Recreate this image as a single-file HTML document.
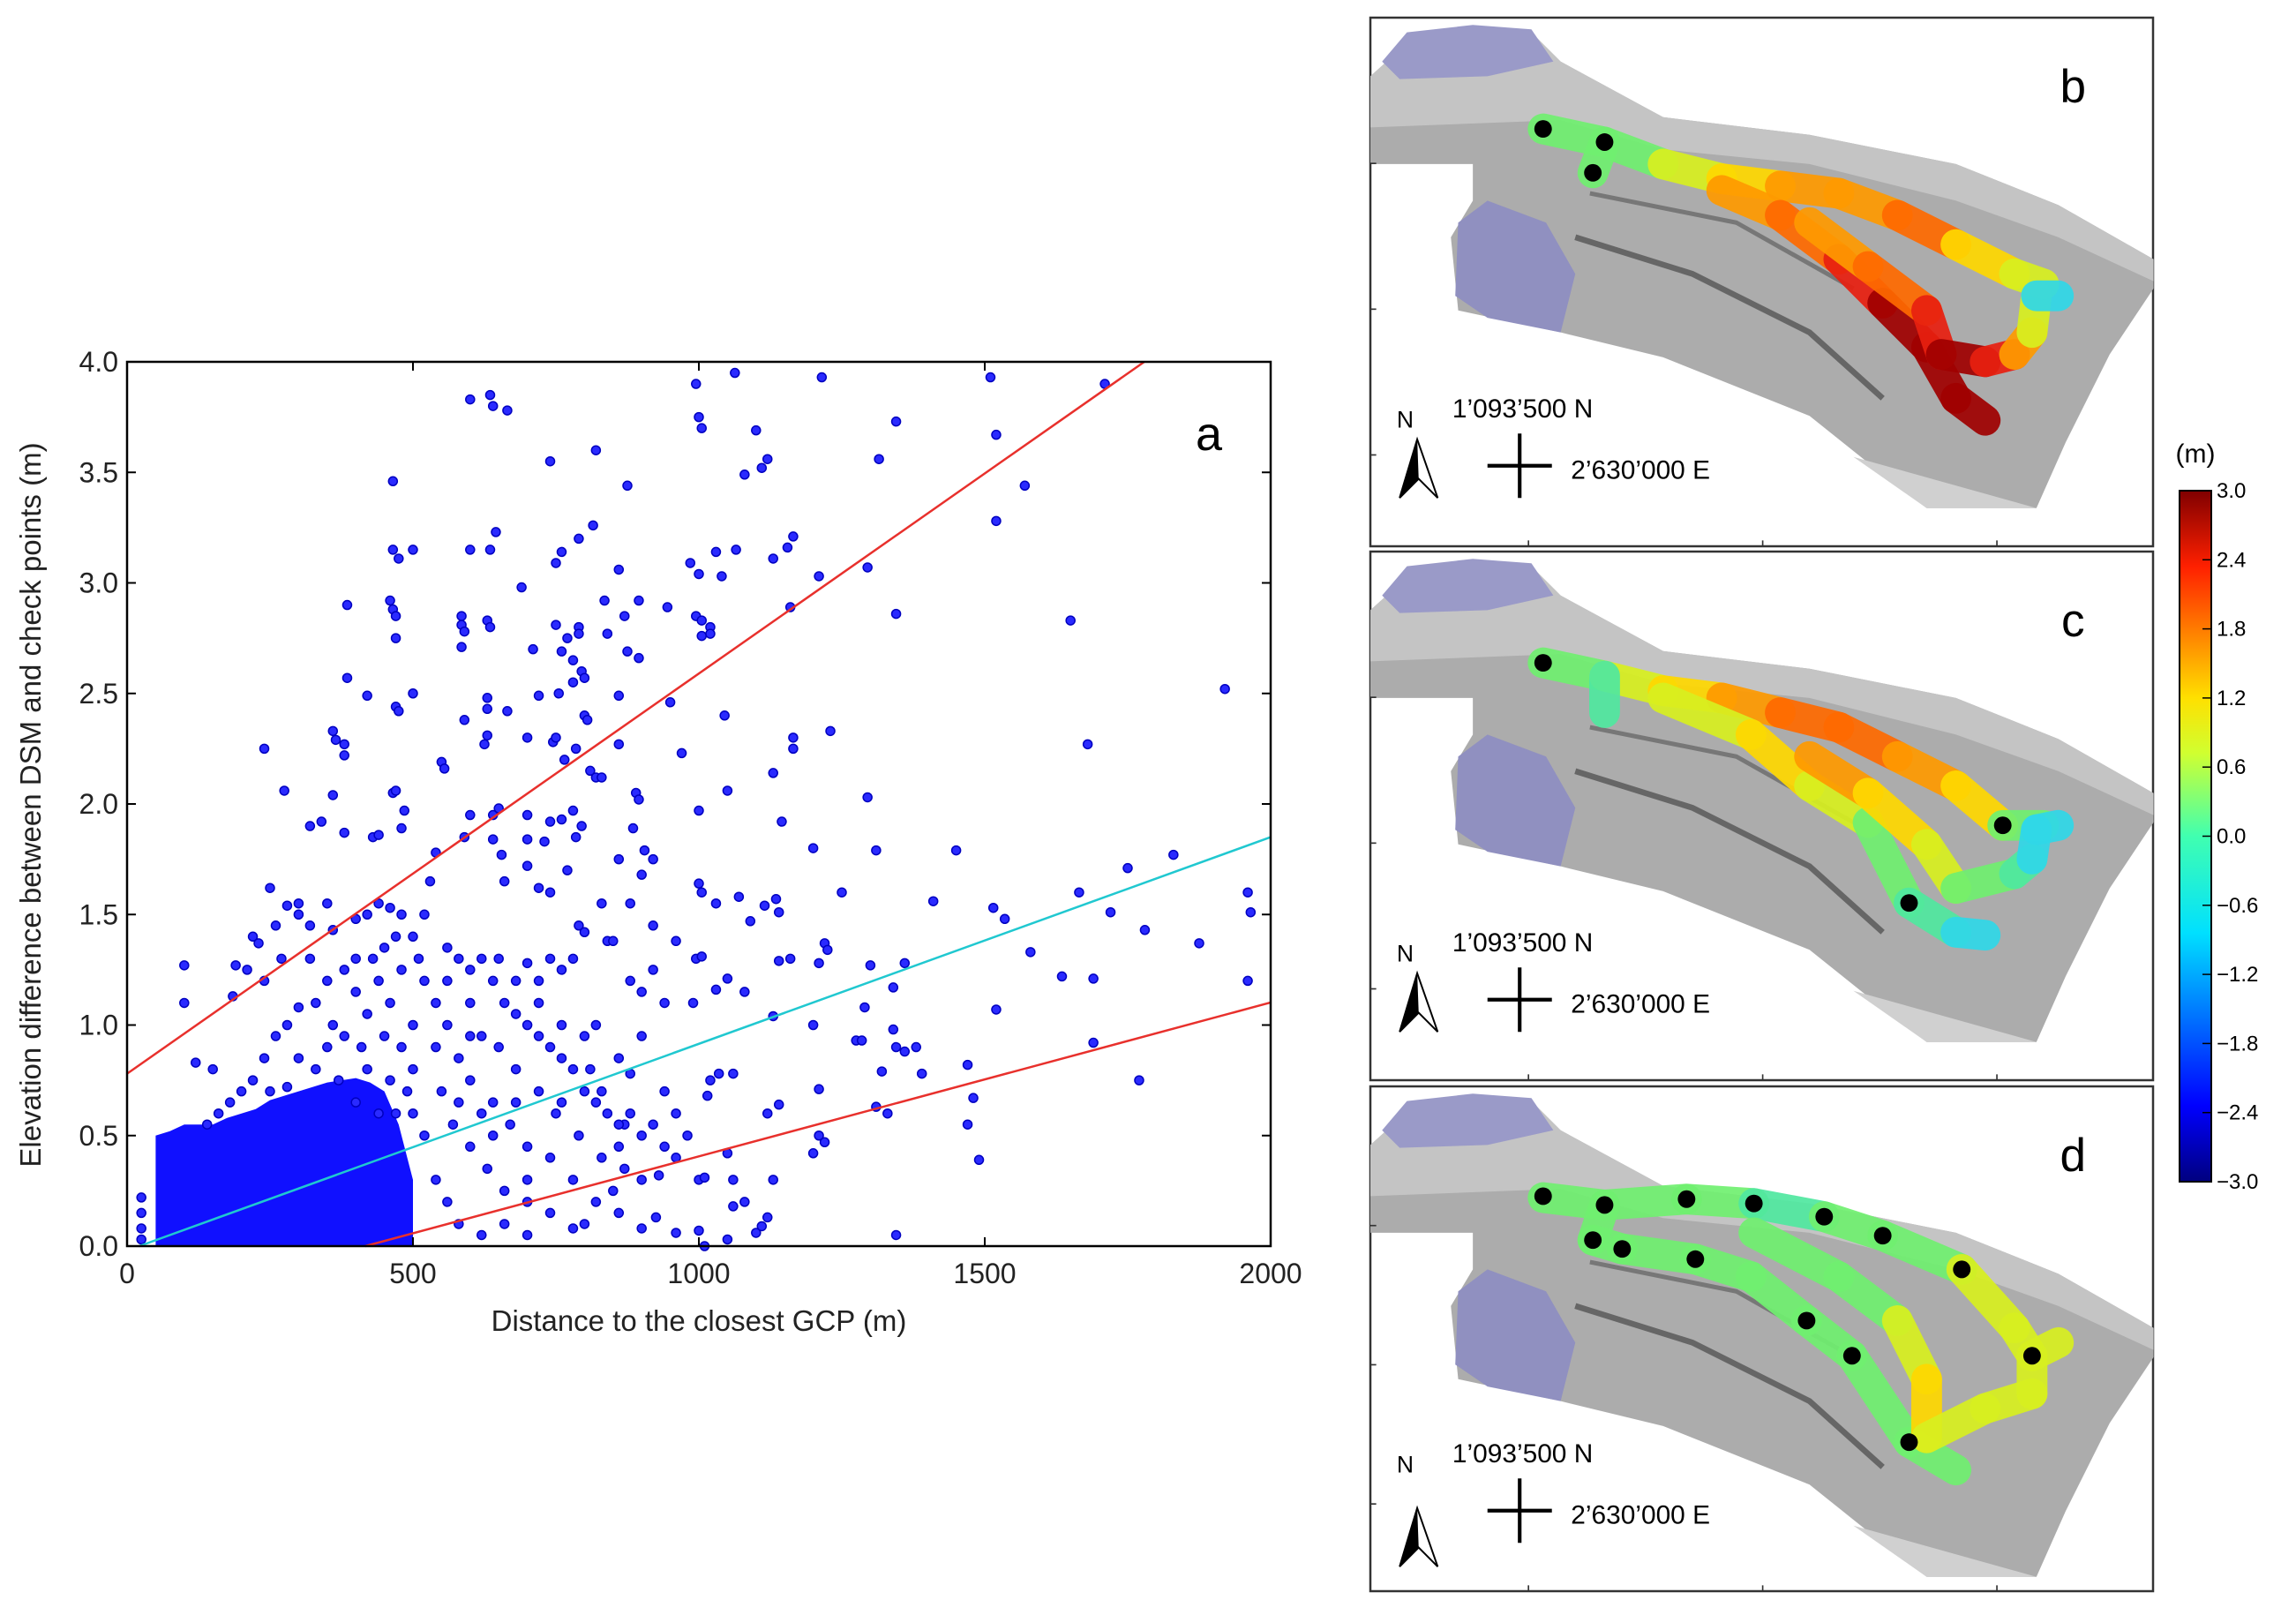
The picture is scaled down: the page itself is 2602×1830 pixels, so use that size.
<!DOCTYPE html>
<html><head><meta charset="utf-8"><style>
html,body{margin:0;padding:0;background:#fff;width:2602px;height:1830px;overflow:hidden;}
svg{display:block;font-family:"Liberation Sans","DejaVu Sans",sans-serif;}
</style></head><body>
<svg id="fig" width="2602" height="1830" viewBox="0 0 2602 1830" xmlns="http://www.w3.org/2000/svg">
<defs>
<linearGradient id="jet" x1="0" y1="1" x2="0" y2="0">
<stop offset="0" stop-color="#00007f"/><stop offset="0.11" stop-color="#0000ff"/><stop offset="0.36" stop-color="#00e0ff"/><stop offset="0.5" stop-color="#40ffb0"/><stop offset="0.62" stop-color="#d0ff30"/><stop offset="0.7" stop-color="#ffe000"/><stop offset="0.89" stop-color="#ff2000"/><stop offset="1" stop-color="#800000"/>
</linearGradient>
<g id="terrain">
<polygon points="0,40 20,22 60,14 110,10 130,30 200,68 300,80 400,100 470,128 535,165 535,185 505,230 475,290 455,335 380,335 350,312 300,272 200,232 130,215 60,200 55,150 70,125 70,100 0,100" fill="#acacac"/>
<polygon points="0,40 20,22 60,14 110,10 130,30 200,68 300,80 400,100 470,128 535,165 535,180 470,150 400,125 300,100 200,90 130,70 0,75" fill="#c4c4c4"/>
<polygon points="8,30 25,10 70,5 110,8 125,30 80,40 20,42" fill="#9a9ac8"/>
<polygon points="60,140 80,125 120,140 140,175 130,215 80,205 58,190" fill="#9090c0"/>
<polyline points="140,150 220,175 300,215 350,260" fill="none" stroke="#666" stroke-width="4"/>
<polyline points="150,120 250,140 330,185" fill="none" stroke="#777" stroke-width="3"/>
<polygon points="330,300 455,335 380,335" fill="#d0d0d0"/>
</g>
</defs>

<g id="chart-a">
<rect x="144" y="410" width="1296" height="1002" fill="#fff" stroke="none"/>
<g id="cluster"></g>
<g id="points"></g>
<g id="fitlines"></g>
<rect x="144" y="410" width="1296" height="1002" fill="none" stroke="#000" stroke-width="2.5"/>
<g id="ticks"></g>
<text x="1370" y="510" font-size="54" text-anchor="middle">a</text>
<text x="792" y="1508" font-size="33" text-anchor="middle" fill="#222">Distance to the closest GCP (m)</text>
<text transform="translate(46,912) rotate(-90)" font-size="33" text-anchor="middle" fill="#222">Elevation difference between DSM and check points (m)</text>
</g>

<g id="maps"></g>

<g>
<text x="2488" y="524" font-size="30" text-anchor="middle">(m)</text>
<rect x="2470" y="556" width="36" height="783" fill="url(#jet)" stroke="#000" stroke-width="2"/>
<g id="cbticks"></g>
</g>
</svg>
<script>
const xTicks = [0, 500, 1000, 1500, 2000];
const yTicks = [0.0, 0.5, 1.0, 1.5, 2.0, 2.5, 3.0, 3.5, 4.0];
const clusterX = [50,75,100,125,150,175,200,225,250,275,300,325,350,375,400,425,450,475,500];
const clusterTop = [0.5,0.52,0.55,0.55,0.55,0.58,0.6,0.62,0.66,0.68,0.7,0.72,0.74,0.75,0.76,0.74,0.7,0.55,0.3];
const ptX = [600,635,640,665,995,1000,1005,1063,1100,1215,1510,1710,1345,1315,1110,1120,1080,740,465,820,875,1570,1520,1520,645,815,790,465,475,500,600,635,750,760,860,985,1000,1030,1040,1065,1130,1155,1165,1210,1295,690,385,460,465,470,470,585,585,590,585,630,635,710,750,760,770,780,790,790,835,840,870,895,875,895,945,995,1005,1005,1020,1020,1160,1345,1650,385,420,470,475,500,590,630,630,665,720,755,800,805,795,800,780,860,950,1045,1165,1165,1230,1680,1920,240,360,365,380,380,550,555,625,630,700,745,750,765,785,810,860,970,1130,275,360,465,470,485,600,640,650,700,740,760,780,795,820,830,890,895,1000,1050,1145,1200,1295,1310,1450,1830,320,340,380,430,440,480,590,640,655,700,730,785,860,885,905,920,1410,1750,1960,1965,1960,1875,1780,1720,1690,1665,1635,1580,1535,1515,1520,1340,1360,1300,1250,1220,1225,1210,1200,1160,1140,1130,1135,1140,1115,1090,1070,1080,1050,1030,1030,1000,1005,995,1005,960,990,1275,1285,1290,1320,1330,1345,1360,1380,1390,1470,1480,1490,1470,1690,1770,1345,1340,1310,1220,1210,1200,1210,1130,1120,1140,1050,1060,1060,1035,1020,1015,1000,1010,960,930,940,900,880,870,925,900,1000,1050,1010,1100,1110,1120,1080,1060,960,800,850,700,
540,530,520,500,510,560,580,600,620,640,660,680,700,720,740,760,780,800,820,840,860,600,620,650,680,720,750,790,830,870,560,580,600,640,670,700,740,780,820,860,540,550,570,600,630,660,700,740,780,520,540,560,580,620,660,700,760,800,820,780,760,800,790,840,850,720,740,700,680,650,660,700,720,740,770,830,880,900,920,920,900,880,940,900,860,880,940,960,980,920,900,860,830,810,760,720,640,680,620,580,600,560,540,520,500,500,500,
250,220,230,210,190,185,240,260,280,300,300,320,350,360,400,420,440,460,480,470,450,430,400,380,350,330,300,280,260,240,220,200,180,160,140,100,100,120,150,270,320,360,400,420,440,460,480,350,380,410,450,480,300,330,370,420,460,490,250,280,400,440,470,25,25,25,25];
const ptY = [3.83,3.85,3.8,3.78,3.9,3.75,3.7,3.95,3.69,3.93,3.93,3.9,3.73,3.56,3.52,3.56,3.49,3.55,3.46,3.6,3.44,3.44,3.67,3.28,3.23,3.26,3.2,3.15,3.11,3.15,3.15,3.15,3.09,3.14,3.06,3.09,3.04,3.14,3.03,3.15,3.11,3.16,3.21,3.03,3.07,2.98,2.9,2.92,2.88,2.85,2.75,2.85,2.81,2.78,2.71,2.83,2.8,2.7,2.81,2.69,2.75,2.65,2.8,2.77,2.92,2.77,2.85,2.92,2.69,2.66,2.89,2.85,2.83,2.76,2.8,2.77,2.89,2.86,2.83,2.57,2.49,2.44,2.42,2.5,2.38,2.48,2.43,2.42,2.49,2.5,2.4,2.38,2.6,2.57,2.55,2.49,2.46,2.4,2.3,2.25,2.33,2.27,2.52,2.25,2.33,2.29,2.27,2.22,2.19,2.16,2.27,2.31,2.3,2.28,2.3,2.2,2.25,2.15,2.27,2.23,2.14,2.06,2.04,2.05,2.06,1.97,1.95,1.95,1.98,1.95,1.92,1.93,1.97,1.9,2.12,2.12,2.05,2.02,1.97,2.06,1.92,1.8,2.03,1.79,1.79,1.77,1.9,1.92,1.87,1.85,1.86,1.89,1.85,1.84,1.77,1.84,1.83,1.85,1.75,1.89,1.79,1.75,1.56,1.71,1.6,1.51,1.2,1.37,1.43,1.51,1.21,1.6,1.22,1.33,1.48,1.53,1.07,1.17,1.28,1.27,1.6,1.37,1.34,1.28,1.0,1.3,1.29,1.04,1.57,1.51,1.54,1.47,1.58,1.15,1.21,1.16,1.55,1.64,1.6,1.3,1.31,1.38,1.1,0.93,0.93,1.08,0.79,0.6,0.9,0.88,0.9,0.78,0.82,0.67,0.39,0.55,0.92,0.75,0.05,0.98,0.63,0.47,0.5,0.42,0.71,0.3,0.6,0.64,0.42,0.78,0.3,0.78,0.75,0.68,0.3,0.31,0.4,0.32,0.45,0.5,0.6,0.55,0.13,0.08,0.07,0.03,0.0,0.06,0.09,0.13,0.2,0.18,0.06,0.1,0.25,0.05,
1.78,1.65,1.5,1.4,1.3,1.35,1.3,1.25,1.3,1.2,1.1,1.05,1.0,0.95,0.9,0.85,0.8,0.7,0.65,0.6,0.55,1.1,0.95,0.9,0.8,0.7,0.6,0.5,0.4,0.35,1.0,0.85,0.75,0.65,0.55,0.45,0.4,0.3,0.2,0.15,0.9,0.7,0.55,0.45,0.35,0.25,0.2,0.15,0.08,0.5,0.3,0.2,0.1,0.05,0.1,0.3,0.65,0.95,1.0,1.3,1.25,1.42,1.45,1.38,1.38,1.2,1.3,1.28,1.2,1.3,1.65,1.72,1.62,1.6,1.7,1.55,1.55,1.68,1.45,1.25,1.15,1.2,1.1,0.95,0.85,0.78,0.7,0.6,0.5,0.55,0.3,0.45,0.7,0.8,1.0,1.1,0.5,0.65,0.6,0.65,0.95,1.2,1.1,1.2,1.0,0.8,0.6,
1.62,1.4,1.37,1.25,1.27,1.13,1.2,1.45,1.54,1.55,1.5,1.45,1.55,1.43,1.48,1.5,1.55,1.53,1.5,1.4,1.35,1.3,1.3,1.25,1.2,1.1,1.08,1.0,0.95,0.85,0.75,0.7,0.65,0.6,0.55,1.27,1.1,0.83,0.8,1.3,1.3,1.0,1.15,1.05,1.2,1.1,1.25,0.9,0.95,0.9,0.95,0.9,0.85,0.8,0.75,0.8,0.75,0.7,0.7,0.72,0.65,0.6,0.6,0.22,0.15,0.08,0.03];
const lineNames = ['upper-bound-line','trend-line','lower-bound-line'];
const lineIntercept = [0.78, -0.02, -0.29];
const lineSlope = [0.00181, 0.000935, 0.000696];
const lineColors = ['#e8302c','#20c8d0','#e8302c'];

const NS='http://www.w3.org/2000/svg';
const X0=144,X1=1440,Y0=1412,Y1=410;
function sx(v){return X0+(v/2000)*(X1-X0);}
function sy(v){return Y0-(v/4)*(Y0-Y1);}
function mk(tag,attrs,parent){const e=document.createElementNS(NS,tag);for(const k in attrs)e.setAttribute(k,attrs[k]);parent.appendChild(e);return e;}

const cl=document.getElementById('cluster');
let pts=[[sx(clusterX[0]),sy(0)]];
for(let i=0;i<clusterX.length;i++)pts.push([sx(clusterX[i]),sy(clusterTop[i])]);
pts.push([sx(clusterX[clusterX.length-1]),sy(0)]);
const area=mk('polygon',{points:pts.map(p=>p.join(',')).join(' '),fill:'#1010ff'},cl);



const pg=document.getElementById('points');
for(let i=0;i<ptX.length;i++){
  const c=mk('circle',{cx:sx(ptX[i]),cy:sy(ptY[i]),r:5,fill:'#2a2aff',stroke:'#0000c0','stroke-width':1.5},pg);
  
  
}
const lg=document.getElementById('fitlines');
for(let i=0;i<lineSlope.length;i++){
  let xa=0,xb=2000;
  const b=lineIntercept[i],m=lineSlope[i];
  if(b<0)xa=-b/m;
  if(b+m*2000>4)xb=(4-b)/m;
  const l=mk('line',{x1:sx(xa),y1:sy(b+m*xa),x2:sx(xb),y2:sy(b+m*xb),stroke:lineColors[i],'stroke-width':2.5},lg);
  
  
}
const tg=document.getElementById('ticks');
xTicks.forEach(v=>{
  mk('line',{x1:sx(v),y1:Y0,x2:sx(v),y2:Y0-10,stroke:'#000','stroke-width':2},tg);
  mk('line',{x1:sx(v),y1:Y1,x2:sx(v),y2:Y1+10,stroke:'#000','stroke-width':2},tg);
  const t=mk('text',{x:sx(v),y:Y0+42,'font-size':32,'text-anchor':'middle',fill:'#222'},tg);
  t.textContent=String(v);
  
  
});
yTicks.forEach(v=>{
  mk('line',{x1:X0,y1:sy(v),x2:X0+10,y2:sy(v),stroke:'#000','stroke-width':2},tg);
  mk('line',{x1:X1,y1:sy(v),x2:X1-10,y2:sy(v),stroke:'#000','stroke-width':2},tg);
  const t=mk('text',{x:X0-10,y:sy(v)+11,'font-size':32,'text-anchor':'end',fill:'#222'},tg);
  t.textContent=v.toFixed(1);
  
  
});

const panelNames=['b','c','d'];
const panelTop=[20,625,1231];
const panelH=[599,599,572];
const jetC={dr:'#a00000',r:'#e82010',or:'#ff6a00',o:'#ff9a00',y:'#ffd800',yg:'#d8f020',g:'#70f070',gc:'#50e8a0',c:'#30d8e8',b:'#2070ff'};
const tracksB=[
 [[118,76,'g'],[160,85,'g'],[200,100,'yg'],[240,110,'y'],[280,115,'o'],[320,120,'o'],[360,135,'or'],[400,155,'y'],[440,175,'yg'],[460,182,'c']],
 [[160,85,'g'],[152,106,'g']],
 [[240,118,'o'],[280,135,'or'],[320,165,'r'],[350,195,'dr'],[380,225,'dr'],[400,260,'dr'],[420,275,'r']],
 [[300,140,'o'],[340,170,'or'],[380,200,'r'],[390,230,'dr'],[420,235,'r'],[440,230,'o'],[452,215,'yg'],[455,190,'gc']],
 [[455,190,'c'],[470,190,'b']]];
const tracksC=[
 [[118,76,'g'],[160,85,'yg'],[200,95,'y'],[240,100,'o'],[280,110,'or'],[320,120,'or'],[360,140,'o'],[400,160,'y'],[432,187,'g'],[460,187,'c']],
 [[160,85,'gc'],[160,110,'c']],
 [[200,100,'yg'],[260,125,'y'],[300,160,'yg'],[340,185,'g'],[368,240,'gc'],[400,260,'c'],[420,262,'c']],
 [[300,140,'o'],[340,165,'y'],[380,200,'yg'],[400,230,'g'],[440,220,'gc'],[452,210,'c'],[455,190,'c']],
 [[455,190,'c'],[470,187,'b']]];
const tracksD=[
 [[118,76,'g'],[160,81,'g'],[216,77,'g'],[262,80,'gc'],[310,89,'g'],[350,102,'g'],[404,125,'yg'],[440,165,'yg'],[452,184,'yg'],[470,175,'c']],
 [[160,81,'g'],[152,105,'g'],[172,111,'g'],[222,118,'g']],
 [[222,118,'g'],[260,130,'g'],[298,160,'g'],[329,184,'g'],[368,243,'g'],[400,262,'g']],
 [[262,100,'g'],[320,130,'g'],[360,160,'yg'],[380,200,'y'],[380,240,'yg'],[420,220,'yg'],[452,210,'yg'],[452,184,'g']]];
const dotsB=[[118,76],[160,85],[152,106]];
const dotsC=[[118,76],[432,187],[368,240]];
const dotsD=[[118,75],[160,81],[152,105],[172,111],[216,77],[222,118],[262,80],[310,89],[350,102],[404,125],[298,160],[329,184],[452,184],[368,243]];
const allTracks=[tracksB,tracksC,tracksD];
const allDots=[dotsB,dotsC,dotsD];
const maps=document.getElementById('maps');
for(let p=0;p<3;p++){
  const outer=mk('g',{},maps);
  
  
  mk('rect',{x:1553,y:panelTop[p],width:887,height:panelH[p],fill:'#fff',stroke:'#333','stroke-width':2.5},outer);
  const g=mk('g',{transform:'translate(1553,'+panelTop[p]+') scale(1.659)'},outer);
  mk('use',{href:'#terrain'},g);
  allTracks[p].forEach(tr=>{
    for(let i=0;i<tr.length-1;i++){
      const a=tr[i],b=tr[i+1];
      const s=mk('line',{x1:a[0],y1:a[1],x2:b[0],y2:b[1],stroke:jetC[a[2]],'stroke-width':21,'stroke-linecap':'round',opacity:0.92},g);
      
      
    }
  });
  allDots[p].forEach(d=>{
    const c=mk('circle',{cx:d[0],cy:d[1],r:6,fill:'#000'},g);
    
    
  });
  [60,120,180,240,300].forEach(y=>mk('line',{x1:0,y1:y*panelH[p]/361,x2:4,y2:y*panelH[p]/361,stroke:'#333','stroke-width':1},g));
  [108,268,428].forEach(x=>mk('line',{x1:x,y1:panelH[p]/1.659,x2:x,y2:panelH[p]/1.659-4,stroke:'#333','stroke-width':1},g));
  const off=(panelH[p]/1.659)-361;
  const lt=mk('text',{x:480,y:58,'font-size':32,'text-anchor':'middle'},g);
  lt.textContent=panelNames[p];
  
  
  const tn=mk('text',{x:18,y:280+off,'font-size':16},g); tn.textContent='N';
  
  
  mk('polygon',{points:'32,288 20,328 33,315 46,328',fill:'#fff',stroke:'#000','stroke-width':1.2},g);
  mk('polygon',{points:'32,288 20,328 33,315',fill:'#000'},g);
  const t1=mk('text',{x:56,y:273+off,'font-size':18},g); t1.textContent='1’093’500 N';
  
  
  mk('line',{x1:80,y1:306+off,x2:124,y2:306+off,stroke:'#000','stroke-width':2.5},g);
  mk('line',{x1:102,y1:284+off,x2:102,y2:328+off,stroke:'#000','stroke-width':2.5},g);
  const t2=mk('text',{x:137,y:315+off,'font-size':18},g); t2.textContent='2’630’000 E';
  
  
}
const cbLabels=['3.0','2.4','1.8','1.2','0.6','0.0','\u22120.6','\u22121.2','\u22121.8','\u22122.4','\u22123.0'];
const cg=document.getElementById('cbticks');
cbLabels.forEach((s,i)=>{
  const y=556+i*783/10;
  mk('line',{x1:2496,y1:y,x2:2506,y2:y,stroke:'#000','stroke-width':1.5},cg);
  const t=mk('text',{x:2512,y:y+8,'font-size':24},cg);
  t.textContent=s;
  
  
});
</script>
</body></html>
